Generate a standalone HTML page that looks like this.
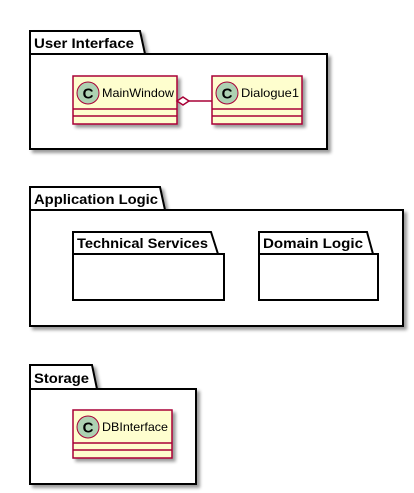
<!DOCTYPE html>
<html><head><meta charset="utf-8"><style>body{margin:0;background:#fff}svg{display:block}</style></head><body>
<svg width="414" height="493" xmlns="http://www.w3.org/2000/svg" font-family="Liberation Sans, sans-serif">
<defs><filter id="s" x="-10%" y="-10%" width="130%" height="130%"><feGaussianBlur in="SourceAlpha" stdDeviation="1.5"/><feOffset dx="3" dy="3"/><feComponentTransfer><feFuncA type="linear" slope="0.4"/></feComponentTransfer><feMerge><feMergeNode/><feMergeNode in="SourceGraphic"/></feMerge></filter></defs>
<g fill="#fff" stroke="#000" stroke-width="2" filter="url(#s)">
<path d="M30,31 H140 L145,54 H327 V149 H30 Z"/>
<path d="M30,187 H160 L165,210 H403 V326 H30 Z"/>
<path d="M73,232 H211 L218,254 H224 V300 H73 Z"/>
<path d="M259,232 H367 L373,254 H378 V300 H259 Z"/>
<path d="M30,365 H92 L97,389 H196 V484 H30 Z"/>
</g>
<g stroke="#000" stroke-width="2" fill="none">
<line x1="30" y1="54" x2="145" y2="54"/><line x1="30" y1="210" x2="165" y2="210"/>
<line x1="73" y1="254" x2="218" y2="254"/><line x1="259" y1="254" x2="373" y2="254"/>
<line x1="30" y1="389" x2="97" y2="389"/>
</g>
<g font-weight="bold" font-size="14" fill="#000">
<text x="34" y="48" textLength="100" lengthAdjust="spacingAndGlyphs">User Interface</text>
<text x="34" y="204" textLength="124" lengthAdjust="spacingAndGlyphs">Application Logic</text>
<text x="77" y="248" textLength="131" lengthAdjust="spacingAndGlyphs">Technical Services</text>
<text x="263" y="248" textLength="100" lengthAdjust="spacingAndGlyphs">Domain Logic</text>
<text x="34" y="383" textLength="55" lengthAdjust="spacingAndGlyphs">Storage</text>
</g>
<g filter="url(#s)" fill="#FEFECE" stroke="#A80036" stroke-width="1.5">
<rect x="73" y="76" width="104" height="48"/>
<rect x="212" y="76" width="90" height="48"/>
<rect x="73" y="410" width="99" height="48"/>
</g>
<g stroke="#A80036" stroke-width="1.5">
<line x1="73" y1="109" x2="177" y2="109"/><line x1="73" y1="116" x2="177" y2="116"/>
<line x1="212" y1="109" x2="302" y2="109"/><line x1="212" y1="116" x2="302" y2="116"/>
<line x1="73" y1="443" x2="172" y2="443"/><line x1="73" y1="450" x2="172" y2="450"/>
<line x1="189" y1="101" x2="212" y2="101"/>
<path d="M177,101 L183,97 L189,101 L183,105 Z" fill="#fff"/>
</g>
<g fill="#ADD1B2" stroke="#A80036" stroke-width="1">
<circle cx="88" cy="93" r="11"/><circle cx="227" cy="93" r="11"/><circle cx="88" cy="427" r="11"/>
</g>
<g font-weight="bold" font-size="15" text-anchor="middle" fill="#000">
<text x="88" y="98.5">C</text><text x="227" y="98.5">C</text><text x="88" y="432.5">C</text>
</g>
<g font-size="12" fill="#000">
<text x="102" y="97" textLength="72" lengthAdjust="spacingAndGlyphs">MainWindow</text>
<text x="241" y="97" textLength="58" lengthAdjust="spacingAndGlyphs">Dialogue1</text>
<text x="102" y="431" textLength="66" lengthAdjust="spacingAndGlyphs">DBInterface</text>
</g>
</svg>
</body></html>
